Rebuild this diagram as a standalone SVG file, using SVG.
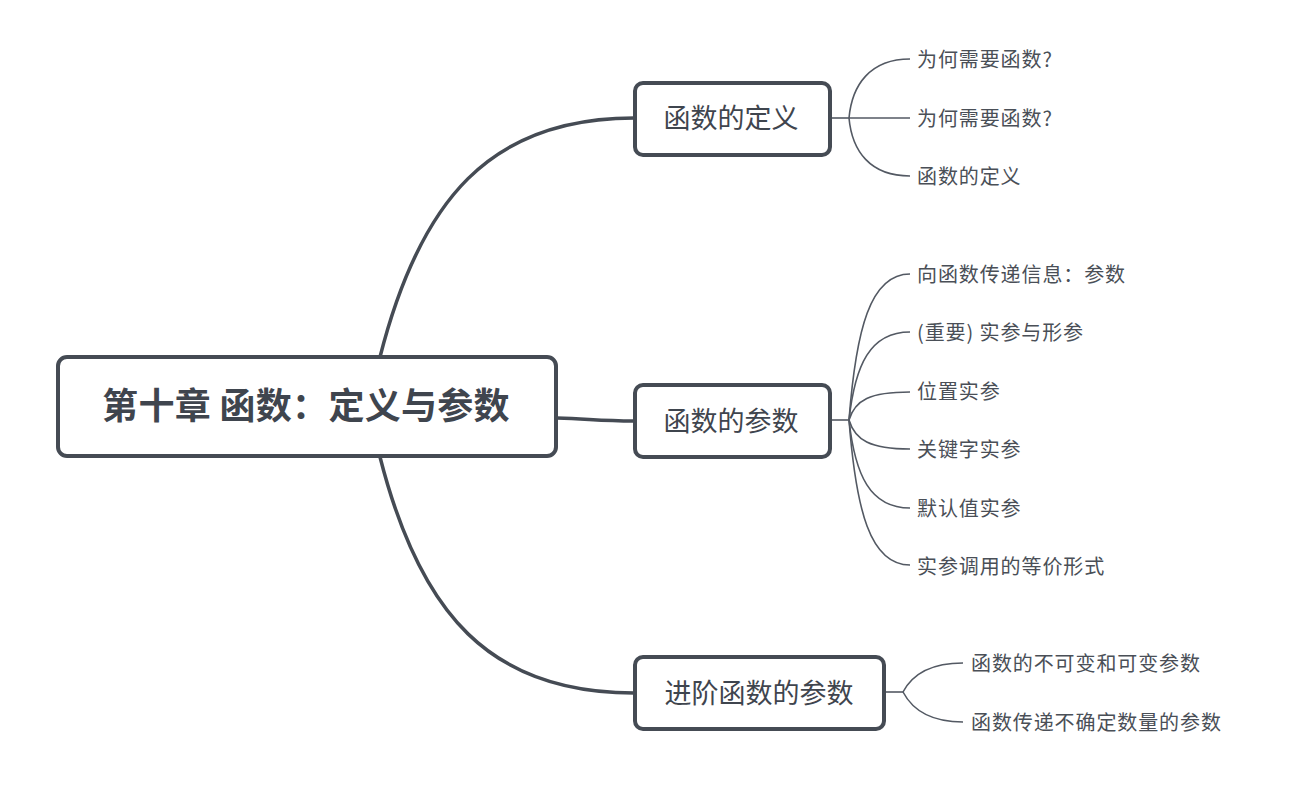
<svg xmlns="http://www.w3.org/2000/svg" width="1292" height="804" viewBox="0 0 1292 804">
<style>
.box{fill:#fff;stroke:#454b54;stroke-width:4}
.main{fill:none;stroke:#454b54;stroke-width:3.5}
.sub{fill:none;stroke:#535963;stroke-width:1.6}
text{font-family:"Noto Sans CJK SC","Noto Sans",sans-serif}
.root{font-size:36px;font-weight:bold;fill:#3f454e;text-anchor:middle;letter-spacing:0.3px}
.mid{font-size:27px;fill:#3f454e;text-anchor:middle}
.leaf{font-size:20px;fill:#4a4f57;letter-spacing:0.9px}
</style>
<rect width="1292" height="804" fill="#fff"/>
<g id="connectors">
<path class="main" d="M380,357 C420,200 490,118 634,118"/>
<path class="main" d="M380,457 C420,614 490,693 634,693"/>
<path class="main" d="M557,418 C590,419 600,421 634,421"/>
<path class="sub" d="M830,118 H849"/>
<path class="sub" d="M849,118 C852,85 870,59 910,59"/>
<path class="sub" d="M849,118 H910"/>
<path class="sub" d="M849,118 C852,151 870,176 910,176"/>
<path class="sub" d="M830,420 H849"/>
<path class="sub" d="M849,420 C856,330 870,274 910,274"/>
<path class="sub" d="M849,420 C855,365 870,332 910,332"/>
<path class="sub" d="M849,420 C855,400 870,392 910,392"/>
<path class="sub" d="M849,420 C855,440 870,449 910,449"/>
<path class="sub" d="M849,420 C855,475 870,508 910,508"/>
<path class="sub" d="M849,420 C856,510 870,565 910,565"/>
<path class="sub" d="M884,692 H903"/>
<path class="sub" d="M903,692 C912,675 930,663 963,663"/>
<path class="sub" d="M903,692 C912,709 930,722 963,722"/>
</g>
<g id="root">
<rect class="box" x="58" y="357" width="498" height="99" rx="9"/>
<text class="root" x="306" y="419">第十章 函数：定义与参数</text>
</g>
<g id="n1">
<rect class="box" x="635" y="83" width="195" height="72" rx="8"/>
<text class="mid" x="731" y="128">函数的定义</text>
</g>
<g id="n2">
<rect class="box" x="635" y="385" width="195" height="72" rx="8"/>
<text class="mid" x="731" y="431">函数的参数</text>
</g>
<g id="n3">
<rect class="box" x="635" y="657" width="249" height="72" rx="8"/>
<text class="mid" x="759" y="703">进阶函数的参数</text>
</g>
<g id="leaves1">
<text class="leaf" x="917" y="67">为何需要函数?</text>
<text class="leaf" x="917" y="126">为何需要函数?</text>
<text class="leaf" x="917" y="184">函数的定义</text>
</g>
<g id="leaves2">
<text class="leaf" x="917" y="282">向函数传递信息：参数</text>
<text class="leaf" x="917" y="340">(重要) 实参与形参</text>
<text class="leaf" x="917" y="399">位置实参</text>
<text class="leaf" x="917" y="457">关键字实参</text>
<text class="leaf" x="917" y="516">默认值实参</text>
<text class="leaf" x="917" y="574">实参调用的等价形式</text>
</g>
<g id="leaves3">
<text class="leaf" x="971" y="671">函数的不可变和可变参数</text>
<text class="leaf" x="971" y="730">函数传递不确定数量的参数</text>
</g>
</svg>
